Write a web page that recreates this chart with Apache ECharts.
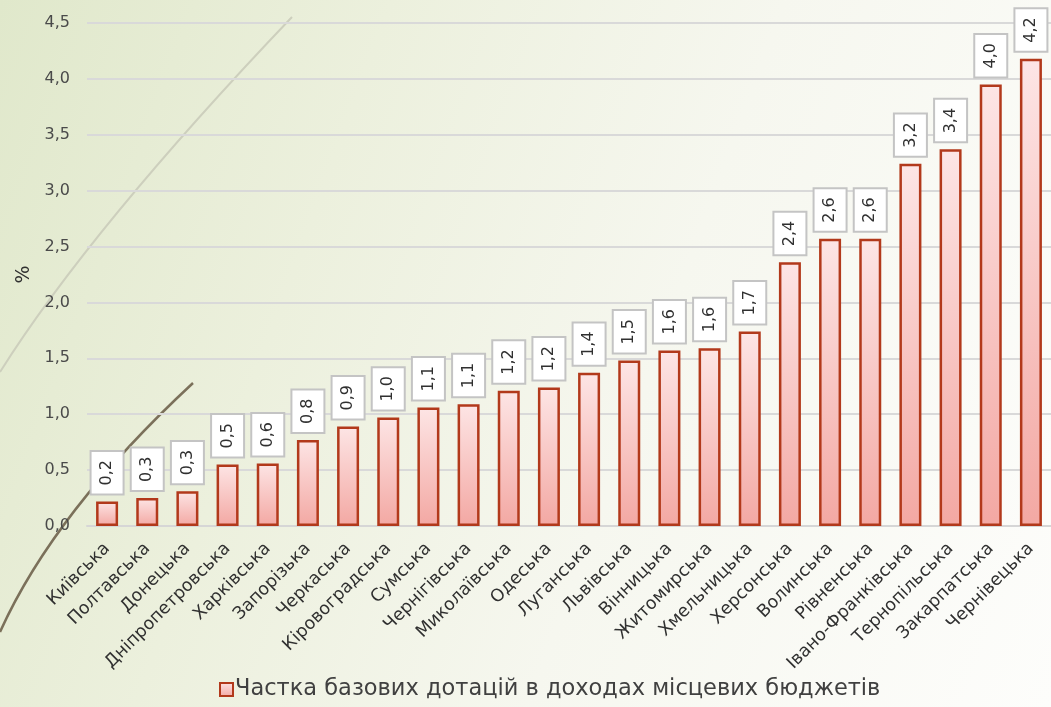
<!DOCTYPE html>
<html>
<head>
<meta charset="utf-8">
<script src="https://cdn.jsdelivr.net/npm/echarts@6/dist/echarts.min.js"></script>
<style>
html,body{margin:0;padding:0;}
#chart{width:1051px;height:707px;background:linear-gradient(110deg,#e0e8cb 0%,#ecf0dd 30%,#f6f7ef 60%,#fdfdfb 100%);}
</style>
</head>
<body>
<div id="chart"></div>
<script>
const categories = ['Київська','Полтавська','Донецька','Дніпропетровська','Харківська','Запорізька','Черкаська','Кіровоградська','Сумська','Чернігівська','Миколаївська','Одеська','Луганська','Львівська','Вінницька','Житомирська','Хмельницька','Херсонська','Волинська','Рівненська','Івано-Франківська','Тернопільська','Закарпатська','Чернівецька'];
const values = [0.22,0.25,0.31,0.55,0.56,0.77,0.89,0.97,1.06,1.09,1.21,1.24,1.37,1.48,1.57,1.59,1.74,2.36,2.57,2.57,3.24,3.37,3.95,4.18];
const valueLabels = ['0,2','0,3','0,3','0,5','0,6','0,8','0,9','1,0','1,1','1,1','1,2','1,2','1,4','1,5','1,6','1,6','1,7','2,4','2,6','2,6','3,2','3,4','4,0','4,2'];
const seriesName = 'Частка базових дотацій в доходах місцевих бюджетів';
const yMin = 0, yMax = 4.5, yStep = 0.5;
const yName = '%';

const font = 'DejaVu Sans';
const chart = echarts.init(document.getElementById('chart'));
chart.setOption({
  backgroundColor: 'transparent',
  textStyle: {fontFamily: font},
  grid: {left: 87, width: 970, top: 23, bottom: 181, containLabel: false},
  graphic: [
    {type: 'bezierCurve', z: -10, silent: true,
     shape: {x1: 292, y1: 17, cpx1: 90, cpy1: 229, x2: 0, y2: 372},
     style: {stroke: '#cdcfbd', lineWidth: 2, fill: null}},
    {type: 'bezierCurve', z: -10, silent: true,
     shape: {x1: 193, y1: 383, cpx1: 54, cpy1: 512, x2: 0, y2: 632},
     style: {stroke: '#7b705a', lineWidth: 2.5, fill: null}}
  ],
  legend: {
    bottom: 1, left: 214,
    itemWidth: 13, itemHeight: 13, itemGap: 4,
    icon: 'rect',
    textStyle: {fontFamily: font, fontSize: 22.5, color: '#404040', padding: [0,0,0,-3]},
    data: [seriesName]
  },
  xAxis: {
    type: 'category', data: categories,
    axisLine: {show: true, lineStyle: {color: '#d6d6d6', width: 2}},
    axisTick: {show: false},
    axisLabel: {rotate: 45, margin: 20, fontSize: 17.5, color: '#303030', interval: 0, fontFamily: font}
  },
  yAxis: {
    type: 'value', min: yMin, max: yMax, interval: yStep,
    name: yName, nameLocation: 'middle', nameRotate: 90, nameGap: 37,
    nameTextStyle: {fontSize: 19, color: '#303030', fontFamily: font},
    axisLine: {show: false}, axisTick: {show: false},
    axisLabel: {margin: 17, fontSize: 16, color: '#4a4a4a', fontFamily: font,
      formatter: v => v.toFixed(1).replace('.', ',')},
    splitLine: {lineStyle: {color: '#d9d9d9', width: 2}}
  },
  series: [{
    name: seriesName, type: 'bar', data: values, barWidth: 22,
    itemStyle: {
      color: new echarts.graphic.LinearGradient(0,0,0,1,[{offset:0,color:'#fde5e5'},{offset:1,color:'#f3a8a3'}]),
      borderColor: '#b2391b', borderWidth: 2.5
    },
    label: {
      show: true, position: 'top', distance: 8, rotate: 90,
      align: 'left', verticalAlign: 'middle',
      formatter: p => valueLabels[p.dataIndex],
      fontSize: 16, color: '#303030', fontFamily: font,
      backgroundColor: '#ffffff', borderColor: '#c4c4c4', borderWidth: 2,
      padding: [7, 8, 6, 8], lineHeight: 18
    }
  }]
});
</script>
</body>
</html>
